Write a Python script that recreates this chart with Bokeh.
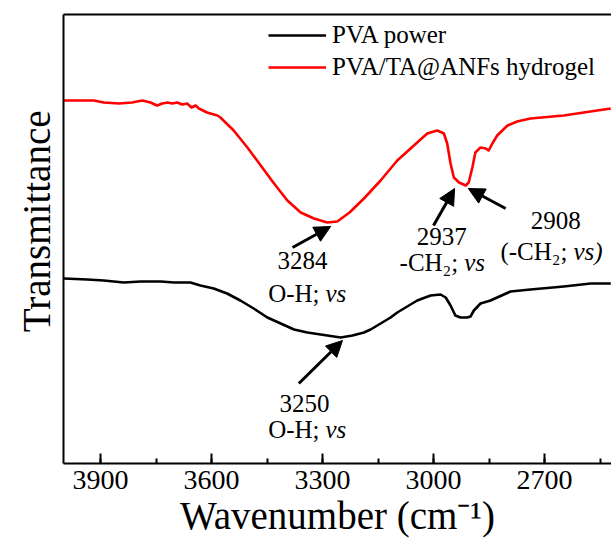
from bokeh.plotting import figure
from bokeh.models import (Range1d, SingleIntervalTicker, FixedTicker, LinearAxis, Title,
                          ColumnDataSource, Arrow, NormalHead)
from bokeh.core.properties import value
from bokeh.embed import file_html
from bokeh.resources import INLINE

FONT = "Liberation Serif, Times New Roman, serif"

# --- data (transmittance in arbitrary units) ---
wn_black = [3999, 3936, 3891, 3837, 3791, 3737, 3701, 3657, 3630, 3594, 3558, 3522, 3486,
            3449, 3413, 3377, 3341, 3305, 3269, 3251, 3219, 3188, 3170, 3116, 3098, 3044,
            3008, 2981, 2967, 2954, 2941, 2927, 2909, 2900, 2891, 2873, 2846, 2792, 2738,
            2648, 2575, 2521]
t_black = [186, 185, 184, 182, 183, 183, 182, 182, 179, 176, 171, 164, 156,
           147, 141, 135, 132, 130, 128, 127, 129, 132, 135, 147, 152, 164,
           169, 170, 167, 159, 149, 147, 147, 148, 154, 161, 164, 173, 175,
           178, 181, 181]

wn_red = [3999, 3918, 3891, 3850, 3815, 3787, 3765, 3747, 3733, 3719, 3706, 3693, 3679,
          3666, 3654, 3643, 3634, 3612, 3584, 3576, 3540, 3503, 3467, 3431, 3395, 3359,
          3323, 3287, 3260, 3227, 3188, 3143, 3098, 3053, 3017, 2990, 2972, 2963, 2954,
          2945, 2931, 2913, 2905, 2895, 2887, 2873, 2859, 2851, 2841, 2828, 2800, 2774,
          2738, 2648, 2594, 2521]
t_red = [364, 364, 362, 361, 362, 364, 362, 359, 361, 362, 361, 362, 360,
         361, 357, 359, 356, 352, 349, 347, 334, 317, 299, 281, 264, 252,
         246, 242, 243, 252, 266, 284, 304, 319, 331, 334, 331, 321, 301,
         287, 282, 279, 282, 297, 312, 317, 316, 314, 321, 329, 339, 343,
         346, 349, 352, 356]

series_names = ["PVA power", "PVA/TA@ANFs hydrogel"]
series_colors = ["#000000", "#ff0000"]

x_ticks_interval = 300

# annotations
ann_nums = ["3284", "3250", "2937", "2908"]
ann_num_x = [3354, 3349, 2978, 2670]
ann_num_y = [204, 61, 228, 244]
ann_main = ["O-H;", "O-H;", "-CH\u2082;", "(-CH\u2082;"]
ann_ital = ["vs", "vs", "vs", "vs)"]
ann_split_x = [3300, 3300, 2925, 2630]
ann_split_y = [171, 35, 202, 213]

arr_x0 = [3381, 3364, 3000, 2805]
arr_y0 = [217, 81, 239, 256]
arr_x1 = [3278, 3246, 2943, 2906]
arr_y1 = [238, 124, 276, 276]

p = figure(width=611, height=543, output_backend="svg", toolbar_location=None,
           x_range=Range1d(4000, 2519), y_range=Range1d(1, 450),
           min_border_left=63, min_border_right=0, min_border_top=14, min_border_bottom=80)
p.outline_line_color = None
p.grid.visible = False
p.background_fill_color = "white"
p.border_fill_color = "white"

p.line(wn_black, t_black, color=series_colors[0], line_width=2.6, legend_label=series_names[0],
       line_join="round")
p.line(wn_red, t_red, color=series_colors[1], line_width=2.6, legend_label=series_names[1],
       line_join="round")

# x axis
xa = p.xaxis[0]
xa.ticker = SingleIntervalTicker(interval=x_ticks_interval, num_minor_ticks=2)
xa.major_tick_in = 10
xa.major_tick_out = 0
xa.minor_tick_in = 5
xa.minor_tick_out = 0
xa.axis_line_width = 2
xa.major_tick_line_width = 2
xa.minor_tick_line_width = 2
xa.major_label_text_font = FONT
xa.major_label_text_font_size = "28px"
xa.major_label_text_color = "black"
xa.major_label_standoff = 7

# y axis
ya = p.yaxis[0]
ya.ticker = FixedTicker(ticks=[])
ya.major_label_text_font_size = "0px"
ya.major_label_standoff = 0
ya.major_tick_out = 0
ya.major_tick_in = 0
ya.axis_line_width = 2
ya.major_tick_line_color = None
ya.minor_tick_line_color = None

# top border
top = LinearAxis(ticker=FixedTicker(ticks=[]), major_label_text_font_size="0px",
                 major_label_standoff=0, major_tick_out=0, major_tick_in=0,
                 major_tick_line_color=None, minor_tick_line_color=None, axis_line_width=2)
p.add_layout(top, "above")

# axis titles
p.add_layout(Title(text="Wavenumber (cm\u207b\u00b9)", text_font=FONT, text_font_size="39px",
                   text_font_style="normal", text_color="black", align="center", standoff=0),
             "below")
p.add_layout(Title(text="Transmittance", text_font=FONT, text_font_size="39px",
                   text_font_style="normal", text_color="black", align="right", offset=96,
                   standoff=12), "left")

# annotations
p.text(x=ann_num_x, y=ann_num_y, text=ann_nums, text_font=value(FONT), text_font_size="25px",
       text_align="center", text_baseline="middle", text_color="black")
p.text(x=ann_split_x, y=ann_split_y, text=ann_main, text_font=value(FONT), text_font_size="25px",
       text_align="right", text_baseline="middle", text_color="black", x_offset=-3)
p.text(x=ann_split_x, y=ann_split_y, text=ann_ital, text_font=value(FONT), text_font_size="25px",
       text_font_style="italic", text_align="left", text_baseline="middle", text_color="black",
       x_offset=3)

arr_src = ColumnDataSource(dict(x0=arr_x0, y0=arr_y0, x1=arr_x1, y1=arr_y1))
p.add_layout(Arrow(end=NormalHead(size=16, fill_color="black", line_color="black"),
                   x_start="x0", y_start="y0", x_end="x1", y_end="y1", source=arr_src,
                   line_width=3, line_color="black"))

# legend
lg = p.legend[0]
lg.location = (205, 381)
lg.border_line_color = None
lg.background_fill_alpha = 0
lg.padding = 0
lg.margin = 0
lg.spacing = 2
lg.label_height = 30
lg.glyph_height = 30
lg.glyph_width = 58
lg.label_standoff = 6
lg.label_text_font = FONT
lg.label_text_font_size = "25px"
lg.label_text_color = "black"

open("out.html", "w").write(file_html(p, INLINE))
